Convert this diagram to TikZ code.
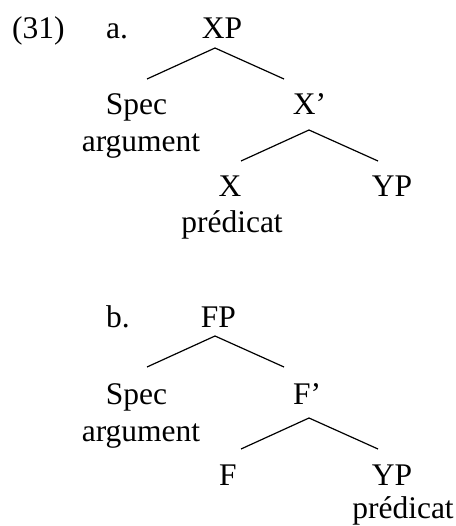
\documentclass[tikz,border=0pt]{standalone}
\usepackage{fontspec}
\setmainfont{Liberation Serif}
\begin{document}
\begin{tikzpicture}[x=1pt,y=-1pt,
  lab/.style={inner sep=0pt,anchor=base,font=\fontsize{31.5}{36}\selectfont},
  labw/.style={lab,anchor=base west},
  br/.style={line width=1.2pt}]
\useasboundingbox (0,0) rectangle (455,526);
% (a)
\node[labw] (num) at (12,39) {(31)};
\node[labw] (la) at (106,39) {a.};
\node[lab] (XP) at (222,39) {XP};
\coordinate (a1) at (215,48);
\coordinate (a1l) at (147,79);
\coordinate (a1r) at (284,79);
\node[lab] (specA) at (136.5,115) {Spec};
\node[lab] (Xb) at (309.5,115) {X’};
\node[lab] (argA) at (141,152) {argument};
\coordinate (a2) at (309,130);
\coordinate (a2l) at (241,161);
\coordinate (a2r) at (378,161);
\node[lab] (X) at (230,197) {X};
\node[lab] (YPa) at (392,197) {YP};
\node[lab] (predA) at (232,233) {prédicat};
\draw[br] (a1l) -- (a1) -- (a1r);
\draw[br] (a2l) -- (a2) -- (a2r);
% (b)
\node[labw] (lb) at (106,327) {b.};
\node[lab] (FP) at (218.5,327) {FP};
\coordinate (b1) at (215,336);
\coordinate (b1l) at (147,367);
\coordinate (b1r) at (284,367);
\node[lab] (specB) at (136.5,404) {Spec};
\node[lab] (Fb) at (307,404) {F’};
\node[lab] (argB) at (141,441) {argument};
\coordinate (b2) at (309,418);
\coordinate (b2l) at (241,449);
\coordinate (b2r) at (378,449);
\node[lab] (F) at (228,485) {F};
\node[lab] (YPb) at (392,485) {YP};
\node[lab] (predB) at (403,518) {prédicat};
\draw[br] (b1l) -- (b1) -- (b1r);
\draw[br] (b2l) -- (b2) -- (b2r);
\end{tikzpicture}
\end{document}
